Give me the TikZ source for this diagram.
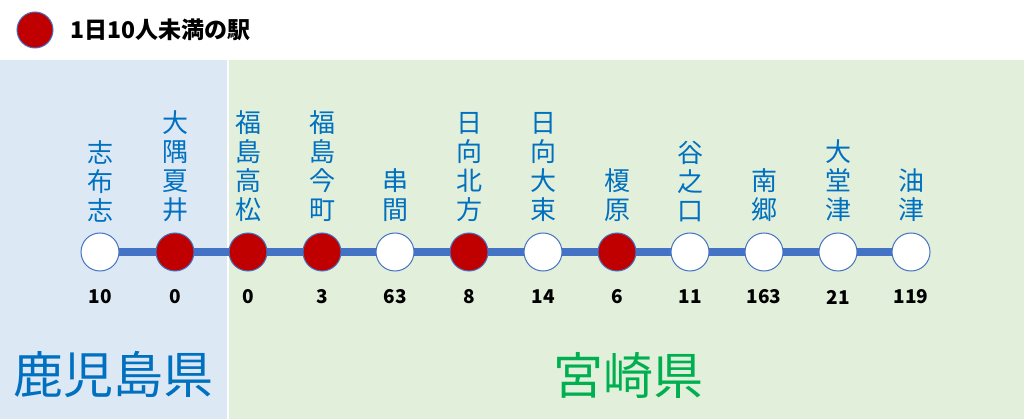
\documentclass[tikz,border=0pt]{standalone}
\usepackage{fontspec}
\setmainfont{Noto Sans CJK JP}
\definecolor{bluebg}{HTML}{DDE8F5}
\definecolor{greenbg}{HTML}{E2EFDA}
\definecolor{linec}{HTML}{4472C4}
\definecolor{namec}{HTML}{0070C0}
\definecolor{redc}{HTML}{C00000}
\definecolor{greenc}{HTML}{00B050}
\tikzset{
 stn/.style={circle,draw=linec,line width=1pt,minimum size=38pt,inner sep=0pt,fill=white},
 red/.style={stn,fill=redc},
 nm/.style={anchor=south,text=namec,font=\fontsize{26pt}{29pt}\selectfont,align=center,inner sep=0pt},
 num/.style={font=\bfseries\fontsize{19pt}{21pt}\selectfont,inner sep=0pt}
}
\begin{document}
\begin{tikzpicture}[x=1pt,y=-1pt]
\useasboundingbox (0,0) rectangle (1024,419);
\fill[white] (0,0) rectangle (1024,419);
\fill[bluebg] (0,60) rectangle (227,419);
\fill[greenbg] (229,60) rectangle (1024,419);
\node[red,minimum size=36pt] (leg) at (35,30) {};
\node[anchor=west,font=\bfseries\fontsize{23pt}{25pt}\selectfont,inner sep=0pt] (legt) at (70,30) {1日10人未満の駅};
\foreach \x/\n/\v [count=\i] in {100/志\\布\\志/10,175/大\\隅\\夏\\井/0,248/福\\島\\高\\松/0,322/福\\島\\今\\町/3,395/串\\間/63,469/日\\向\\北\\方/8,543/日\\向\\大\\束/14,617/榎\\原/6,690/谷\\之\\口/11,764/南\\郷/163,838/大\\堂\\津/21,911/油\\津/119}{
 \coordinate (p\i) at (\x,252);
 \node[nm] (n\i) at (\x,222) {\n};
 \node[num] (v\i) at (\x,297) {\v};
}
\draw[linec,line width=8pt] (p1) -- (p12);
\foreach \s [count=\i] in {stn,red,red,red,stn,red,stn,red,stn,stn,stn,stn}{
 \node[\s] (s\i) at (p\i) {};
}
\node[text=namec,font=\fontsize{50pt}{54pt}\selectfont] (kg) at (113,375) {鹿児島県};
\node[text=greenc,font=\fontsize{50pt}{54pt}\selectfont] (mz) at (628,375) {宮崎県};
\end{tikzpicture}
\end{document}
